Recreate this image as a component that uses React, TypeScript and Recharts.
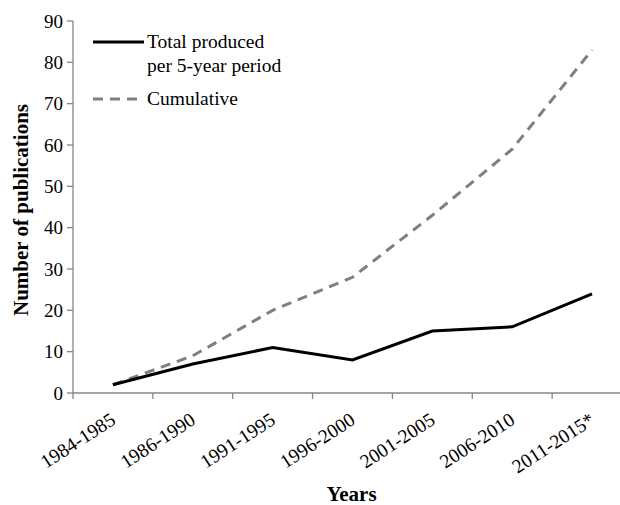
import { LineChart, Line, XAxis, YAxis, Legend } from 'recharts';

const periods = ['1984-1985', '1986-1990', '1991-1995', '1996-2000', '2001-2005', '2006-2010', '2011-2015*'];
const totalPerPeriod = [2, 7, 11, 8, 15, 16, 24];
const cumulative = [2, 9, 20, 28, 43, 59, 83];
const yTicks = [0, 10, 20, 30, 40, 50, 60, 70, 80, 90];
// tick marks sit on category boundaries, labels in the middle of each category
const xTicks = [0, 0.5, 1, 1.5, 2, 2.5, 3, 3.5, 4, 4.5, 5, 5.5, 6, 6.5];

const data = periods.map((period, i) => ({
  pos: i + 0.5,
  period,
  total: totalPerPeriod[i],
  cumulative: cumulative[i],
}));

const FONT = '"Liberation Serif", "DejaVu Serif", serif';
const AXIS = '#868686';
const DASH_GREY = '#7f7f7f';

function XTick({ x, y, payload }: any) {
  const v = payload.value;
  if (Number.isInteger(v)) {
    return <line x1={x} x2={x} y1={y - 6} y2={y} stroke={AXIS} strokeWidth={1.3} />;
  }
  const label = periods[Math.floor(v)];
  const ax = x + 4;
  const ay = y + 24;
  return (
    <text
      x={ax}
      y={ay}
      textAnchor="end"
      style={{ fontFamily: FONT, fontSize: 19.5 }}
      fill="#000"
      transform={`rotate(-33, ${ax}, ${ay})`}
    >
      {label}
    </text>
  );
}

function LegendBox() {
  return (
    <div style={{ fontFamily: FONT, fontSize: 19.5, color: '#000', lineHeight: '24px' }}>
      <div style={{ display: 'flex', alignItems: 'flex-start' }}>
        <svg width={56} height={24}>
          <line x1={2} x2={53} y1={12} y2={12} stroke="#000" strokeWidth={3} />
        </svg>
        <div>
          Total produced
          <br />
          per 5-year period
        </div>
      </div>
      <div style={{ display: 'flex', alignItems: 'flex-start', marginTop: 9 }}>
        <svg width={56} height={24}>
          <line x1={2} x2={53} y1={12} y2={12} stroke={DASH_GREY} strokeWidth={3} strokeDasharray="10 7" />
        </svg>
        <div>Cumulative</div>
      </div>
    </div>
  );
}

export default function App() {
  return (
    <div style={{ position: 'absolute', left: 0, top: 0, width: 620, height: 505, background: '#fff' }}>
      <LineChart width={620} height={505} data={data} margin={{ top: 21, right: 0, left: 0, bottom: 0 }}>
        <XAxis
          dataKey="pos"
          type="number"
          domain={[0, 6.85]}
          ticks={xTicks}
          interval={0}
          allowDataOverflow
          tickLine={false}
          tickSize={6}
          tickMargin={0}
          tick={<XTick />}
          height={112}
          stroke={AXIS}
          strokeWidth={1.3}
          label={({ viewBox }: any) => (
            <text
              x={viewBox.x + viewBox.width / 2 + 5}
              y={viewBox.y + 108}
              textAnchor="middle"
              style={{ fontFamily: FONT, fontWeight: 'bold', fontSize: 21 }}
              fill="#000"
            >
              Years
            </text>
          )}
        />
        <YAxis
          domain={[0, 90]}
          ticks={yTicks}
          interval={0}
          width={73}
          tickSize={6}
          tickMargin={4}
          stroke={AXIS}
          strokeWidth={1.3}
          tick={{ fontFamily: FONT, fontSize: 19, fill: '#000' }}
          label={({ viewBox }: any) => {
            const cx = 21;
            const cy = viewBox.y + viewBox.height / 2 + 3;
            return (
              <text
                x={cx}
                y={cy}
                textAnchor="middle"
                dominantBaseline="central"
                style={{ fontFamily: FONT, fontWeight: 'bold', fontSize: 21 }}
                fill="#000"
                transform={`rotate(-90, ${cx}, ${cy})`}
              >
                Number of publications
              </text>
            );
          }}
        />
        <Legend
          layout="horizontal"
          verticalAlign="middle"
          align="center"
          content={<LegendBox />}
          wrapperStyle={{ position: 'absolute', top: 30, left: 91, width: 'auto', height: 'auto' }}
        />
        <Line
          dataKey="cumulative"
          stroke={DASH_GREY}
          strokeWidth={3}
          strokeDasharray="10 7"
          dot={false}
          isAnimationActive={false}
        />
        <Line
          dataKey="total"
          stroke="#000"
          strokeWidth={3}
          dot={false}
          isAnimationActive={false}
        />
      </LineChart>
    </div>
  );
}
